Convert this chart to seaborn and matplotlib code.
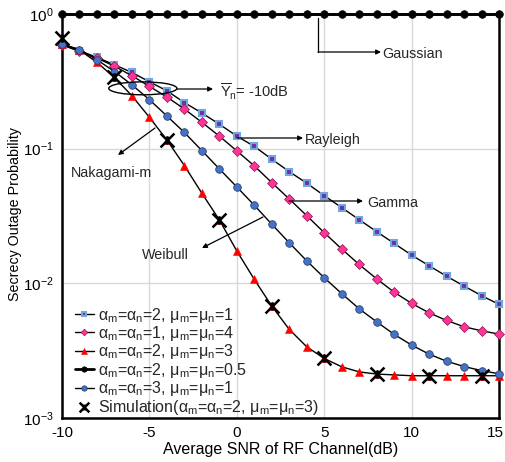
import numpy as np
import pandas as pd
import matplotlib
matplotlib.use("Agg")
import matplotlib.pyplot as plt
import matplotlib.transforms as mtransforms
import seaborn as sns
from matplotlib.path import Path
from matplotlib.patches import Ellipse

snr = list(range(-10, 16))

rayleigh = [0.59, 0.535, 0.476, 0.42, 0.368, 0.314, 0.269, 0.22, 0.184, 0.152, 0.124, 0.104,
            0.0835, 0.0676, 0.0554, 0.0448, 0.0365, 0.0297, 0.0242, 0.0198, 0.0162, 0.0135,
            0.0113, 0.00955, 0.0081, 0.00698]
gamma = [0.59, 0.527, 0.47, 0.41, 0.348, 0.29, 0.242, 0.197, 0.157, 0.124, 0.0963, 0.0745,
         0.056, 0.0423, 0.0318, 0.0238, 0.018, 0.0138, 0.0108, 0.0086, 0.0071, 0.00604,
         0.0053, 0.00476, 0.00444, 0.0042]
nakagami = [0.6, 0.54, 0.437, 0.338, 0.247, 0.171, 0.116, 0.0749, 0.0467, 0.0296, 0.0174,
            0.0107, 0.00678, 0.00455, 0.00338, 0.00277, 0.0024, 0.0022, 0.00212, 0.00209,
            0.00206, 0.00206, 0.00206, 0.00206, 0.00206, 0.00206]
gaussian = [1.0] * 26
weibull = [0.6, 0.543, 0.457, 0.374, 0.298, 0.231, 0.175, 0.132, 0.0968, 0.0708, 0.052,
           0.038, 0.0275, 0.020, 0.0147, 0.011, 0.0084, 0.00647, 0.00518, 0.00418, 0.00348,
           0.00298, 0.00264, 0.00241, 0.00225, 0.00213]
sim_snr = [-10, -7, -4, -1, 2, 5, 8, 11, 14]
sim_vals = [0.66, 0.338, 0.116, 0.0296, 0.0068, 0.00277, 0.00212, 0.00206, 0.00206]

labels = [
    "α$_\\mathrm{m}$=α$_\\mathrm{n}$=2, μ$_\\mathrm{m}$=μ$_\\mathrm{n}$=1",
    "α$_\\mathrm{m}$=α$_\\mathrm{n}$=1, μ$_\\mathrm{m}$=μ$_\\mathrm{n}$=4",
    "α$_\\mathrm{m}$=α$_\\mathrm{n}$=2, μ$_\\mathrm{m}$=μ$_\\mathrm{n}$=3",
    "α$_\\mathrm{m}$=α$_\\mathrm{n}$=2, μ$_\\mathrm{m}$=μ$_\\mathrm{n}$=0.5",
    "α$_\\mathrm{m}$=α$_\\mathrm{n}$=3, μ$_\\mathrm{m}$=μ$_\\mathrm{n}$=1",
    "Simulation(α$_\\mathrm{m}$=α$_\\mathrm{n}$=2, μ$_\\mathrm{m}$=μ$_\\mathrm{n}$=3)",
]

sns.set_theme(style="white")
plt.rcParams["font.family"] = ["Liberation Sans", "DejaVu Sans"]
plt.rcParams["mathtext.fontset"] = "custom"
plt.rcParams["mathtext.rm"] = "Liberation Sans"
plt.rcParams["mathtext.it"] = "Liberation Sans:italic"
plt.rcParams["mathtext.default"] = "regular"

fig = plt.figure(figsize=(5.06, 4.62), dpi=100)
ax = fig.add_axes([62 / 506, 1 - 418 / 462, 437 / 506, 404 / 462])

styles = [
    (rayleigh, dict(marker="s", markersize=5, markerfacecolor="#7030A0", markeredgecolor="#6FA8DC", markeredgewidth=1.5)),
    (gamma, dict(marker="D", markersize=4.8, markerfacecolor="#FF3399", markeredgecolor="#8B1A4A", markeredgewidth=0.5)),
    (nakagami, dict(marker="^", markersize=6, markerfacecolor="#FF0000", markeredgecolor="#FF0000", markeredgewidth=0.4)),
    (gaussian, dict(marker="o", markersize=5.5, markerfacecolor="black", markeredgecolor="black", markeredgewidth=0.5, linewidth=2.0)),
    (weibull, dict(marker="o", markersize=5.5, markerfacecolor="#4472C4", markeredgecolor="#203864", markeredgewidth=0.5)),
]

for (vals, kw), lab in zip(styles, labels[:5]):
    df = pd.DataFrame({"snr": snr, "p": vals})
    kw = dict(kw)
    lw = kw.pop("linewidth", 1.0)
    sns.lineplot(data=df, x="snr", y="p", ax=ax, color="black", linewidth=lw,
                 clip_on=False, zorder=3, label=lab, **kw)

# custom simulation marker: X with a short vertical bar
xs_marker = Path([(-1, -1), (1, 1), (-1, 1), (1, -1), (0, -0.6), (0, 0.6)],
                 [Path.MOVETO, Path.LINETO, Path.MOVETO, Path.LINETO, Path.MOVETO, Path.LINETO])
sim_df = pd.DataFrame({"snr": sim_snr, "p": sim_vals})
sns.scatterplot(data=sim_df, x="snr", y="p", ax=ax, marker=xs_marker, s=100, color="black",
                linewidth=1.8, edgecolor="black", zorder=5, clip_on=False, label=labels[5])

ax.set_yscale("log")
ax.set_xlim(-10, 15)
ax.set_ylim(1e-3, 1)
ax.set_xticks([-10, -5, 0, 5, 10, 15])
ax.set_xticklabels(["-10", "-5", "0", "5", "10", "15"])
ax.set_yticks([1e-3, 1e-2, 1e-1, 1])
ax.set_yticklabels(["10$^{-3}$", "10$^{-2}$", "10$^{-1}$", "10$^{0}$"])
ax.minorticks_off()
ax.grid(True, color="#D9D9D9", linewidth=1.0)
ax.tick_params(axis="both", labelsize=11, length=0, pad=6, colors="black")
# nudge the last x tick label so it stays inside the figure
last = ax.get_xticklabels()[-1]
last.set_transform(last.get_transform() + mtransforms.ScaledTranslation(-4 / 100, 0, fig.dpi_scale_trans))
for s in ax.spines.values():
    s.set_color("black")
    s.set_linewidth(1.8)
ax.set_xlabel("Average SNR of RF Channel(dB)", fontsize=11.5, labelpad=1, color="black")
ax.set_ylabel("Secrecy Outage Probability", fontsize=10.3, color="black")
ax.yaxis.set_label_coords(-40 / 437, (418 - 214) / 404)

leg = ax.legend(loc="lower left", bbox_to_anchor=(0.0, -0.028), frameon=False, fontsize=11.5,
                handlelength=1.2, handletextpad=0.25, labelspacing=-0.04, borderpad=0.3,
                markerscale=0.7)

# annotations
ax.add_patch(Ellipse((0.185, 0.816), 0.156, 0.032, transform=ax.transAxes,
                     fill=False, edgecolor="black", linewidth=1.0, zorder=6))
arrow = dict(arrowstyle="-|>", color="black", lw=0.9, mutation_scale=7, shrinkA=0, shrinkB=0)
def px(x, y):
    return ((x - 62) / 437, (418 - y) / 404)

ax.annotate("", xy=px(213, 89), xytext=px(177, 89), xycoords="axes fraction",
            textcoords="axes fraction", arrowprops=arrow)
ax.text(*px(220, 92), r"$\overline{\mathrm{Υ}}_\mathrm{n}$= -10dB", transform=ax.transAxes,
        fontsize=10.5, va="center", ha="left")

ax.plot(*zip(px(318, 18), px(318, 52)), transform=ax.transAxes, color="black", lw=0.9)
ax.annotate("", xy=px(381, 52), xytext=px(318, 52), xycoords="axes fraction",
            textcoords="axes fraction", arrowprops=arrow)
ax.text(*px(382, 54), "Gaussian", transform=ax.transAxes, fontsize=10.3, va="center", ha="left")

ax.annotate("", xy=px(303, 138), xytext=px(237, 138), xycoords="axes fraction",
            textcoords="axes fraction", arrowprops=arrow)
ax.text(*px(305, 140), "Rayleigh", transform=ax.transAxes, fontsize=10.3, va="center", ha="left")

ax.annotate("", xy=px(363, 201), xytext=px(289, 201), xycoords="axes fraction",
            textcoords="axes fraction", arrowprops=arrow)
ax.text(*px(367, 203), "Gamma", transform=ax.transAxes, fontsize=10.3, va="center", ha="left")

ax.annotate("", xy=px(118, 155), xytext=px(155, 128), xycoords="axes fraction",
            textcoords="axes fraction", arrowprops=arrow)
ax.text(*px(112, 173), "Nakagami-m", transform=ax.transAxes, fontsize=10.3, va="center", ha="center")

ax.annotate("", xy=px(202, 248), xytext=px(263, 217), xycoords="axes fraction",
            textcoords="axes fraction", arrowprops=arrow)
ax.text(*px(165, 255), "Weibull", transform=ax.transAxes, fontsize=10.3, va="center", ha="center")

fig.savefig("out.png", dpi=100)
